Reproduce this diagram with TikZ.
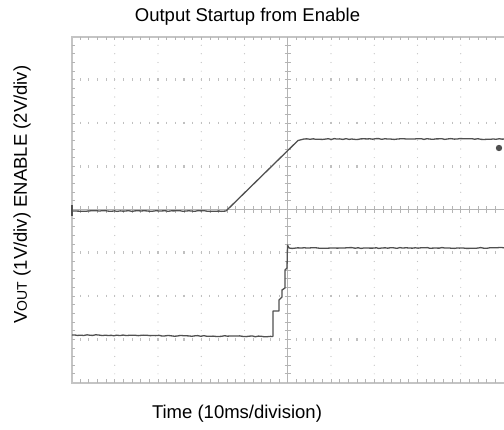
\documentclass[tikz,border=0pt]{standalone}
\usepackage{fontspec}
\setmainfont{Liberation Sans}
\usetikzlibrary{decorations.pathmorphing}
\definecolor{gridgray}{HTML}{B4B4B4}
\definecolor{dotgray}{HTML}{C0C0C0}
\definecolor{framegray}{HTML}{C4C4C4}
\definecolor{tracegray}{HTML}{505050}
\tikzset{
  labeltext/.style={font=\fontsize{18.5}{20}\selectfont, inner sep=0pt},
  gridline/.style={gridgray, line width=0.9pt},
  griddot/.style={dotgray, line width=1.1pt},
  frameline/.style={framegray, line width=2pt},
  tickmark/.style={gridgray, line width=0.8pt},
  trace/.style={tracegray, line width=1.3pt, line join=round},
  noisy/.style={decorate, decoration={random steps, segment length=3pt, amplitude=0.45pt}},
}
\begin{document}
\begin{tikzpicture}[x=1pt,y=-1pt]
\useasboundingbox (0,0) rectangle (504,429);
\clip (0,0) rectangle (504,429);

% graticule: 10 x 8 divisions, 43.25pt each
\begin{scope}[shift={(71.5,36.5)}, x=43.25pt, y=-43.25pt]
  % dotted division lines
  \foreach \i in {1,2,3,4,6,7,8,9} {
    \foreach \k in {1,...,39}
      \fill[dotgray] (\i,\k/5) circle (0.6pt);
  }
  \foreach \j in {1,2,3,5,6,7} {
    \foreach \k in {1,...,49}
      \draw[griddot] (\k/5,\j-0.03) -- (\k/5,\j+0.03);
  }
  % centre axes with minor ticks
  \draw[gridline] (5,0) -- (5,8);
  \draw[gridline] (0,4) -- (10,4);
  \foreach \k in {1,...,39}
    \draw[tickmark] (4.93,\k/5) -- (5.07,\k/5);
  \foreach \k in {1,...,49}
    \draw[tickmark] (\k/5,3.93) -- (\k/5,4.07);
  % outer frame with inward ticks
  \draw[frameline] (10.2,0) -- (0,0) -- (0,8) -- (10.2,8);
  \foreach \k in {1,...,49} {
    \draw[tickmark] (\k/5,0) -- (\k/5,0.09);
    \draw[tickmark] (\k/5,8) -- (\k/5,7.91);
  }
  \foreach \k in {1,...,39}
    \draw[tickmark] (0,\k/5) -- (0.09,\k/5);
\end{scope}

% VOUT trace
\pgfmathsetseed{11}
\coordinate (v0) at (72,211);
\coordinate (v1) at (226,211);
\coordinate (v2) at (298,140.5);
\coordinate (v3) at (304,139);
\coordinate (v4) at (505,139);
\draw[trace] (72,205) -- (72,216);
\draw[trace, noisy] (v0) -- (v1);
\draw[trace] (v1) -- (v2) -- (v3);
\draw[trace, noisy] (v3) -- (v4);
\fill[tracegray] (499,148) circle (3.2pt);

% ENABLE trace
\pgfmathsetseed{5}
\coordinate (e0) at (72,335);
\coordinate (e1) at (273,336.5);
\draw[trace, noisy] (e0) -- (e1);
\draw[trace] (e1) -- (273,311) -- (279,311) -- (279,300) -- (282,297)
  -- (282,290) -- (285,288) -- (285,270) -- (287,268) -- (287.5,245)
  -- (289,248);
\coordinate (e2) at (289,248);
\coordinate (e3) at (505,248);
\draw[trace, noisy] (e2) -- (e3);

% labels
\node[labeltext, anchor=base] (title) at (247.5,21.5) {Output Startup from Enable};
\node[labeltext, anchor=base] (xlabel) at (237,418) {Time (10ms/division)};
\node[labeltext, anchor=base, rotate=90] (ylabel) at (27,194.5)
  {V{\fontsize{14}{14}\selectfont OUT} (1V/div) ENABLE (2V/div)};
\end{tikzpicture}
\end{document}
